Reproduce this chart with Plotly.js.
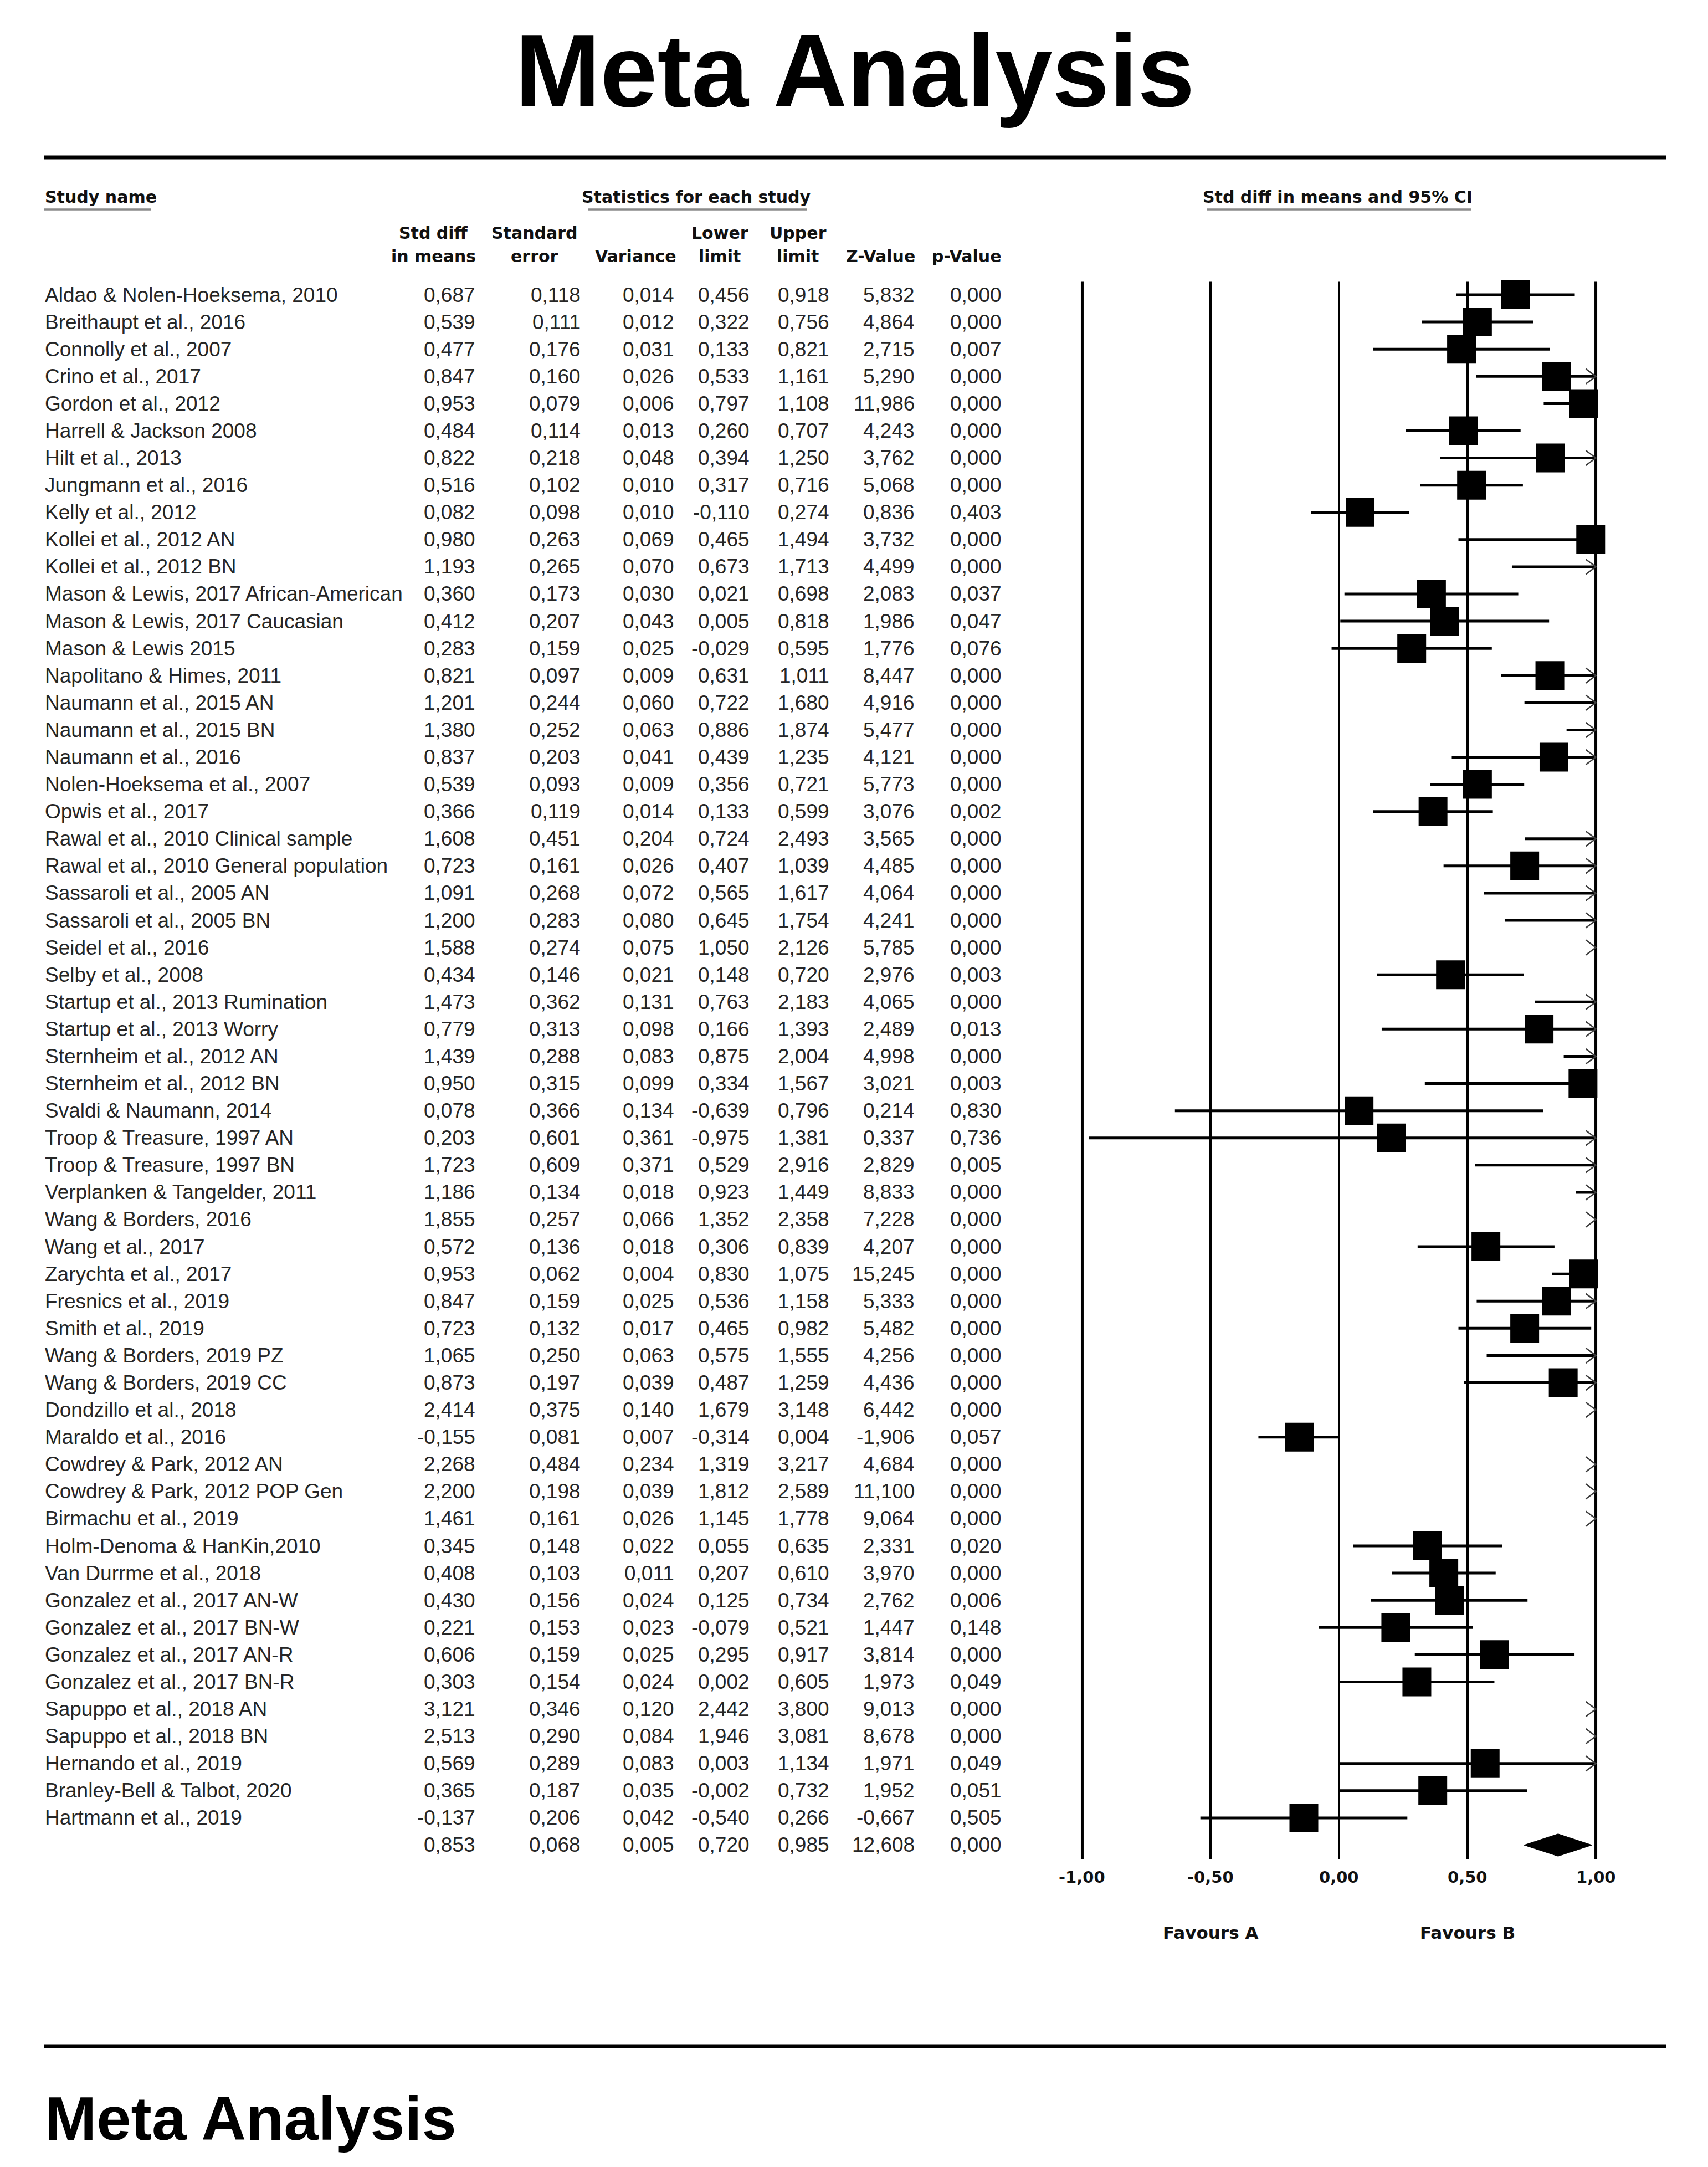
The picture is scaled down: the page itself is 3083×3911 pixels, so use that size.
<!DOCTYPE html>
<html>
<head>
<meta charset="utf-8">
<script src="https://cdn.plot.ly/plotly-3.0.1.min.js"></script>
<style>
html,body{margin:0;padding:0;background:#ffffff;}
#chart{width:3083px;height:3911px;}
</style>
</head>
<body>
<div id="chart"></div>
<script>
// ---------------- DATA ----------------
const studies = [
  "Aldao & Nolen-Hoeksema, 2010","Breithaupt et al., 2016","Connolly et al., 2007","Crino et al., 2017",
  "Gordon et al., 2012","Harrell & Jackson 2008","Hilt et al., 2013","Jungmann et al., 2016",
  "Kelly et al., 2012","Kollei et al., 2012 AN","Kollei et al., 2012 BN","Mason & Lewis, 2017 African-American",
  "Mason & Lewis, 2017 Caucasian","Mason & Lewis 2015","Napolitano & Himes, 2011","Naumann et al., 2015 AN",
  "Naumann et al., 2015 BN","Naumann et al., 2016","Nolen-Hoeksema et al., 2007","Opwis et al., 2017",
  "Rawal et al., 2010 Clinical sample","Rawal et al., 2010 General population","Sassaroli et al., 2005 AN","Sassaroli et al., 2005 BN",
  "Seidel et al., 2016","Selby et al., 2008","Startup et al., 2013 Rumination","Startup et al., 2013 Worry",
  "Sternheim et al., 2012 AN","Sternheim et al., 2012 BN","Svaldi & Naumann, 2014","Troop & Treasure, 1997 AN",
  "Troop & Treasure, 1997 BN","Verplanken & Tangelder, 2011","Wang & Borders, 2016","Wang et al., 2017",
  "Zarychta et al., 2017","Fresnics et al., 2019","Smith et al., 2019","Wang & Borders, 2019 PZ",
  "Wang & Borders, 2019 CC","Dondzillo et al., 2018","Maraldo et al., 2016","Cowdrey & Park, 2012 AN",
  "Cowdrey & Park, 2012 POP Gen","Birmachu et al., 2019","Holm-Denoma & HanKin,2010","Van Durrme et al., 2018",
  "Gonzalez et al., 2017 AN-W","Gonzalez et al., 2017 BN-W","Gonzalez et al., 2017 AN-R","Gonzalez et al., 2017 BN-R",
  "Sapuppo et al., 2018 AN","Sapuppo et al., 2018 BN","Hernando et al., 2019","Branley-Bell & Talbot, 2020",
  "Hartmann et al., 2019"
];
const stdDiff = [0.687,0.539,0.477,0.847,0.953,0.484,0.822,0.516,0.082,0.980,1.193,0.360,0.412,0.283,0.821,1.201,
  1.380,0.837,0.539,0.366,1.608,0.723,1.091,1.200,1.588,0.434,1.473,0.779,1.439,0.950,0.078,0.203,
  1.723,1.186,1.855,0.572,0.953,0.847,0.723,1.065,0.873,2.414,-0.155,2.268,2.200,1.461,0.345,0.408,
  0.430,0.221,0.606,0.303,3.121,2.513,0.569,0.365,-0.137];
const stdErr = [0.118,0.111,0.176,0.160,0.079,0.114,0.218,0.102,0.098,0.263,0.265,0.173,0.207,0.159,0.097,0.244,
  0.252,0.203,0.093,0.119,0.451,0.161,0.268,0.283,0.274,0.146,0.362,0.313,0.288,0.315,0.366,0.601,
  0.609,0.134,0.257,0.136,0.062,0.159,0.132,0.250,0.197,0.375,0.081,0.484,0.198,0.161,0.148,0.103,
  0.156,0.153,0.159,0.154,0.346,0.290,0.289,0.187,0.206];
const variance = [0.014,0.012,0.031,0.026,0.006,0.013,0.048,0.010,0.010,0.069,0.070,0.030,0.043,0.025,0.009,0.060,
  0.063,0.041,0.009,0.014,0.204,0.026,0.072,0.080,0.075,0.021,0.131,0.098,0.083,0.099,0.134,0.361,
  0.371,0.018,0.066,0.018,0.004,0.025,0.017,0.063,0.039,0.140,0.007,0.234,0.039,0.026,0.022,0.011,
  0.024,0.023,0.025,0.024,0.120,0.084,0.083,0.035,0.042];
const lowerLimit = [0.456,0.322,0.133,0.533,0.797,0.260,0.394,0.317,-0.110,0.465,0.673,0.021,0.005,-0.029,0.631,0.722,
  0.886,0.439,0.356,0.133,0.724,0.407,0.565,0.645,1.050,0.148,0.763,0.166,0.875,0.334,-0.639,-0.975,
  0.529,0.923,1.352,0.306,0.830,0.536,0.465,0.575,0.487,1.679,-0.314,1.319,1.812,1.145,0.055,0.207,
  0.125,-0.079,0.295,0.002,2.442,1.946,0.003,-0.002,-0.540];
const upperLimit = [0.918,0.756,0.821,1.161,1.108,0.707,1.250,0.716,0.274,1.494,1.713,0.698,0.818,0.595,1.011,1.680,
  1.874,1.235,0.721,0.599,2.493,1.039,1.617,1.754,2.126,0.720,2.183,1.393,2.004,1.567,0.796,1.381,
  2.916,1.449,2.358,0.839,1.075,1.158,0.982,1.555,1.259,3.148,0.004,3.217,2.589,1.778,0.635,0.610,
  0.734,0.521,0.917,0.605,3.800,3.081,1.134,0.732,0.266];
const zValue = [5.832,4.864,2.715,5.290,11.986,4.243,3.762,5.068,0.836,3.732,4.499,2.083,1.986,1.776,8.447,4.916,
  5.477,4.121,5.773,3.076,3.565,4.485,4.064,4.241,5.785,2.976,4.065,2.489,4.998,3.021,0.214,0.337,
  2.829,8.833,7.228,4.207,15.245,5.333,5.482,4.256,4.436,6.442,-1.906,4.684,11.100,9.064,2.331,3.970,
  2.762,1.447,3.814,1.973,9.013,8.678,1.971,1.952,-0.667];
const pValue = [0.000,0.000,0.007,0.000,0.000,0.000,0.000,0.000,0.403,0.000,0.000,0.037,0.047,0.076,0.000,0.000,
  0.000,0.000,0.000,0.002,0.000,0.000,0.000,0.000,0.000,0.003,0.000,0.013,0.000,0.003,0.830,0.736,
  0.005,0.000,0.000,0.000,0.000,0.000,0.000,0.000,0.000,0.000,0.057,0.000,0.000,0.000,0.020,0.000,
  0.006,0.148,0.000,0.049,0.000,0.000,0.049,0.051,0.505];
// pooled (summary) row: std diff, std err, variance, lower, upper, Z, p
const summaryValues = [0.853,0.068,0.005,0.720,0.985,12.608,0.000];
const tickValues = [-1,-0.5,0,0.5,1];
const tickLabels = ["-1,00","-0,50","0,00","0,50","1,00"];
const headerLine1 = ["Std diff","Standard","","Lower","Upper","",""];
const headerLine2 = ["in means","error","Variance","limit","limit","Z-Value","p-Value"];

// ---------------- LAYOUT HELPERS ----------------
const W = 3083, H = 3911;
const px = v => v / W;
const py = v => 1 - v / H;
const fmt = v => v.toFixed(3).replace('.', ',');
const n = studies.length;
const sumRow = n;

const BODY = "'Liberation Sans', Arial, sans-serif";
const BOLD = "'DejaVu Sans', Verdana, sans-serif";
const bodyFont = {family: BODY, size: 37, color: "#262626"};
const boldFont = {family: BOLD, size: 30, color: "#111111", weight: "bold"};

const colRight = [859, 1049, 1218, 1354, 1498, 1652, 1809];
const colCenter = [782, 965, 1147, 1299, 1440, 1590, 1745];

// ---------------- TRACES ----------------
const ciX = [], ciY = [], arX = [], arY = [];
const AX = 0.039, AY = 0.275;
for (let i = 0; i < n; i++) {
  const lo = lowerLimit[i], hi = upperLimit[i];
  if (hi >= -1 && lo <= 1) {
    ciX.push(Math.max(lo, -1), Math.min(hi, 1), null);
    ciY.push(i, i, null);
  }
  if (hi > 1) { arX.push(1 - AX, 1, 1 - AX, null); arY.push(i - AY, i, i + AY, null); }
  if (lo < -1) { arX.push(-1 + AX, -1, -1 + AX, null); arY.push(i - AY, i, i + AY, null); }
}
const sqX = stdDiff.map(v => (v >= -1 && v <= 1) ? v : null);
const sqY = studies.map((_, i) => i);

const DH = 0.41;
const sEst = summaryValues[0], sLo = summaryValues[3], sHi = summaryValues[4];

const traces = [
  {type: "scatter", mode: "lines", x: ciX, y: ciY, line: {color: "#000", width: 5},
   cliponaxis: false, hoverinfo: "skip", showlegend: false},
  {type: "scatter", mode: "lines", x: arX, y: arY, line: {color: "#3c3c3c", width: 2.5},
   cliponaxis: false, hoverinfo: "skip", showlegend: false},
  {type: "scatter", mode: "markers", x: sqX, y: sqY,
   marker: {symbol: "square", size: 52, color: "#000", line: {width: 0}},
   cliponaxis: false, hoverinfo: "skip", showlegend: false},
  {type: "scatter", mode: "lines", x: [sLo, sEst, sHi, sEst, sLo], y: [sumRow, sumRow - DH, sumRow, sumRow + DH, sumRow],
   fill: "toself", fillcolor: "#000", line: {color: "#000", width: 1},
   cliponaxis: false, hoverinfo: "skip", showlegend: false}
];

// ---------------- ANNOTATIONS ----------------
const ann = [];
function pageText(text, x, y, font, xanchor) {
  ann.push({text: text, x: px(x), y: py(y), xref: "paper", yref: "paper", showarrow: false,
    xanchor: xanchor || "left", yanchor: "middle", font: font, borderpad: 0});
}
function rowText(text, x, row, xanchor) {
  ann.push({text: text, x: px(x), y: row, xref: "paper", yref: "y", showarrow: false,
    xanchor: xanchor, yanchor: "middle", font: bodyFont, borderpad: 0});
}

// section headers
pageText("Study name", 80, 355, boldFont, "left");
pageText("Statistics for each study", 1049, 355, boldFont, "left");
pageText("Std diff in means and 95% CI", 2170, 355, boldFont, "left");
// column headers
for (let c = 0; c < headerLine2.length; c++) {
  if (headerLine1[c]) pageText(headerLine1[c], colCenter[c], 421, boldFont, "center");
  pageText(headerLine2[c], colCenter[c], 463, boldFont, "center");
}
// rows
const cols = [stdDiff, stdErr, variance, lowerLimit, upperLimit, zValue, pValue];
for (let i = 0; i < n; i++) {
  rowText(studies[i], 80, i, "left");
  for (let c = 0; c < cols.length; c++) rowText(fmt(cols[c][i]), colRight[c], i, "right");
}
for (let c = 0; c < summaryValues.length; c++) rowText(fmt(summaryValues[c]), colRight[c], sumRow, "right");

// axis tick labels + favours
const tickFont = {family: BOLD, size: 29, color: "#111111", weight: "bold"};
for (let k = 0; k < tickValues.length; k++) {
  ann.push({text: tickLabels[k], x: tickValues[k], xref: "x", y: py(3388), yref: "paper",
    showarrow: false, xanchor: "center", yanchor: "middle", font: tickFont, borderpad: 0});
}
const favFont = {family: BOLD, size: 31, color: "#111111", weight: "bold"};
ann.push({text: "Favours A", x: -0.5, xref: "x", y: py(3488), yref: "paper", showarrow: false,
  xanchor: "center", yanchor: "middle", font: favFont, borderpad: 0});
ann.push({text: "Favours B", x: 0.5, xref: "x", y: py(3488), yref: "paper", showarrow: false,
  xanchor: "center", yanchor: "middle", font: favFont, borderpad: 0});

// bottom heading
pageText("Meta Analysis", 80, 3823, {family: BODY, size: 112, color: "#000", weight: "bold"}, "left");

// ---------------- SHAPES ----------------
const shapes = [];
// horizontal rules
shapes.push({type: "line", xref: "paper", yref: "paper", x0: px(79), x1: px(3008), y0: py(284), y1: py(284),
  line: {color: "#000", width: 7}});
shapes.push({type: "line", xref: "paper", yref: "paper", x0: px(79), x1: px(3008), y0: py(3693), y1: py(3693),
  line: {color: "#000", width: 7}});
// header underlines
[[80, 272], [1062, 1457], [2178, 2656]].forEach(s => shapes.push({type: "line", xref: "paper", yref: "paper",
  x0: px(s[0]), x1: px(s[1]), y0: py(378), y1: py(378), line: {color: "#8a8a8a", width: 3.5}}));
// vertical reference lines of the forest plot
tickValues.forEach(v => shapes.push({type: "line", xref: "x", yref: "y", x0: v, x1: v, y0: -0.477, y1: 57.51,
  layer: "below", line: {color: "#000", width: v === 0 ? 4 : 5}}));

// ---------------- LAYOUT ----------------
const layout = {
  width: W, height: H,
  margin: {l: 0, r: 0, t: 0, b: 0, pad: 0},
  paper_bgcolor: "#ffffff", plot_bgcolor: "rgba(0,0,0,0)",
  title: {text: "Meta Analysis", font: {family: BODY, size: 185, color: "#000", weight: "bold"},
    x: px(1543), xref: "container", xanchor: "center", y: py(127), yref: "container", yanchor: "middle"},
  showlegend: false,
  xaxis: {range: [-1.02, 1.02], domain: [px(1944.2), px(2889.8)], showgrid: false, zeroline: false,
    showline: false, showticklabels: false, ticks: "", fixedrange: true},
  yaxis: {range: [58.5, -1.5], domain: [py(3403.6), py(458.4)], showgrid: false, zeroline: false,
    showline: false, showticklabels: false, ticks: "", fixedrange: true},
  annotations: ann,
  shapes: shapes
};

Plotly.newPlot("chart", traces, layout, {displayModeBar: false, staticPlot: true});
</script>
</body>
</html>
